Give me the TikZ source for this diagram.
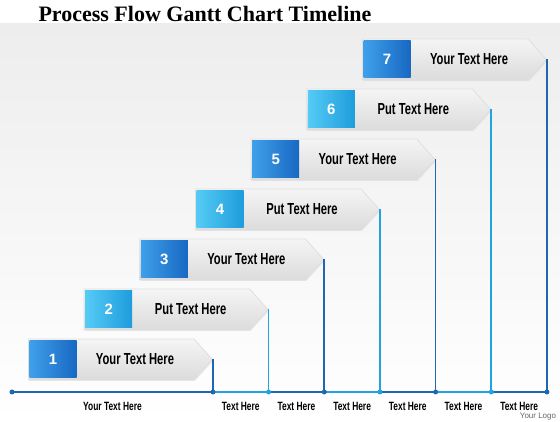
\documentclass[tikz,border=0pt]{standalone}
\usepackage{fontspec}
\setmainfont{Liberation Serif}
\newfontfamily\condfont[FakeStretch=0.7]{Liberation Sans}
\newfontfamily\plainsans{Liberation Sans}
\usepackage{tikz}
\usetikzlibrary{shapes.symbols,positioning,shadows}
\definecolor{dkblue}{HTML}{1E68B0}
\definecolor{ltblue}{HTML}{22A2DE}
\definecolor{dkboxa}{HTML}{3FA0EA}
\definecolor{dkboxb}{HTML}{1868C2}
\definecolor{ltboxa}{HTML}{55CBF5}
\definecolor{ltboxb}{HTML}{1E9CDC}
\definecolor{paneltop}{HTML}{EDEDED}
\tikzset{banner/.style={signal, signal to=east, signal pointer angle=96,
    minimum width=184pt, minimum height=41pt, inner sep=0pt,
    draw=black!12, line width=0.8pt, top color=black!4, bottom color=black!14,
    drop shadow={opacity=0.15, shadow xshift=1pt, shadow yshift=-1pt}},
  numbox/.style 2 args={rectangle, minimum width=47pt, minimum height=37pt, inner sep=0pt,
    shading=axis, shading angle=225, left color=#1, right color=#2,
    text=white, font=\plainsans\bfseries\fontsize{15}{15}\selectfont},
  bantext/.style={font=\condfont\bfseries\fontsize{16}{16}\selectfont},
  axtext/.style={font=\condfont\bfseries\fontsize{12}{12}\selectfont},
  dkline/.style={draw=dkblue, line width=1.7pt},
  ltline/.style={draw=ltblue, line width=1.7pt},
  dot/.style={circle, fill=#1, inner sep=0pt, minimum size=5pt}
}

\begin{document}
\begin{tikzpicture}[x=1pt, y=1pt, node distance=50pt and 55.67pt, on grid]
        \fill[white] (0,0) rectangle (560,420);
        \shade[top color=paneltop, bottom color=white] (0,0) rectangle (560,396);
        \node[anchor=base west, font=\bfseries\fontsize{22}{22}\selectfont] (title) at (35,398)
             {Process Flow Gantt Chart Timeline};

        \node[banner, anchor=west] (b1) at (28,60.5)            {};
        \node[banner]              (b2) [above right=of b1]     {};
        \node[banner]              (b3) [above right=of b2]     {};
        \node[banner]              (b4) [above right=of b3]     {};
        \node[banner]              (b5) [above right=of b4]     {};
        \node[banner]              (b6) [above right=of b5]     {};
        \node[banner]              (b7) [above right=of b6]     {};

        \node[numbox={dkboxa}{dkboxb}] (n1) at ([xshift=25pt]b1.west) {1};
        \node[numbox={ltboxa}{ltboxb}] (n2) at ([xshift=25pt]b2.west) {2};
        \node[numbox={dkboxa}{dkboxb}] (n3) at ([xshift=25pt]b3.west) {3};
        \node[numbox={ltboxa}{ltboxb}] (n4) at ([xshift=25pt]b4.west) {4};
        \node[numbox={dkboxa}{dkboxb}] (n5) at ([xshift=25pt]b5.west) {5};
        \node[numbox={ltboxa}{ltboxb}] (n6) at ([xshift=25pt]b6.west) {6};
        \node[numbox={dkboxa}{dkboxb}] (n7) at ([xshift=25pt]b7.west) {7};

        \node[bantext] (t1) at ([xshift=107pt]b1.west) {Your Text Here};
        \node[bantext] (t2) at ([xshift=107pt]b2.west) {Put Text Here};
        \node[bantext] (t3) at ([xshift=107pt]b3.west) {Your Text Here};
        \node[bantext] (t4) at ([xshift=107pt]b4.west) {Put Text Here};
        \node[bantext] (t5) at ([xshift=107pt]b5.west) {Your Text Here};
        \node[bantext] (t6) at ([xshift=107pt]b6.west) {Put Text Here};
        \node[bantext] (t7) at ([xshift=107pt]b7.west) {Your Text Here};

        \coordinate (o) at (12,28);
        \coordinate (a1) at (b1.east |- o);
        \coordinate (a2) at (b2.east |- o);
        \coordinate (a3) at (b3.east |- o);
        \coordinate (a4) at (b4.east |- o);
        \coordinate (a5) at (b5.east |- o);
        \coordinate (a6) at (b6.east |- o);
        \coordinate (a7) at (b7.east |- o);

        \draw[dkline] (b1.east) -- (a1);
        \draw[ltline] (b2.east) -- (a2);
        \draw[dkline] (b3.east) -- (a3);
        \draw[ltline] (b4.east) -- (a4);
        \draw[dkline] (b5.east) -- (a5);
        \draw[ltline] (b6.east) -- (a6);
        \draw[dkline] (b7.east) -- (a7);

        \path[dkline] (o)  -- (a1) node[midway, below=6pt, axtext] {Your Text Here};
        \path[ltline] (a1) -- (a2) node[midway, below=6pt, axtext] {Text Here};
        \path[dkline] (a2) -- (a3) node[midway, below=6pt, axtext] {Text Here};
        \path[ltline] (a3) -- (a4) node[midway, below=6pt, axtext] {Text Here};
        \path[dkline] (a4) -- (a5) node[midway, below=6pt, axtext] {Text Here};
        \path[ltline] (a5) -- (a6) node[midway, below=6pt, axtext] {Text Here};
        \path[dkline] (a6) -- (a7) node[midway, below=6pt, axtext] {Text Here};

        \node[dot=dkblue] (d0) at (o)  {};
        \node[dot=dkblue] (d1) at (a1) {};
        \node[dot=ltblue] (d2) at (a2) {};
        \node[dot=dkblue] (d3) at (a3) {};
        \node[dot=ltblue] (d4) at (a4) {};
        \node[dot=dkblue] (d5) at (a5) {};
        \node[dot=ltblue] (d6) at (a6) {};
        \node[dot=dkblue] (d7) at (a7) {};

        \node[font=\plainsans\fontsize{8}{8}\selectfont, text=black!60, inner sep=0.5pt] (logo) at (538,3) {Your Logo};
      \end{tikzpicture}
\end{document}
